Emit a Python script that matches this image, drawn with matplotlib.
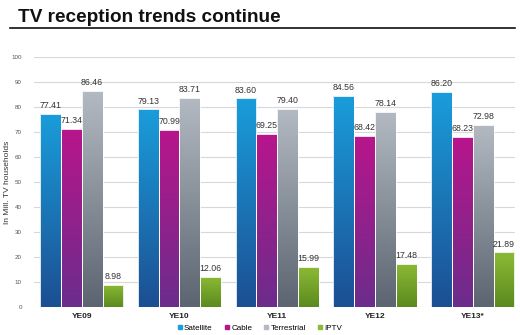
import numpy as np
import matplotlib.pyplot as plt
from matplotlib.colors import LinearSegmentedColormap
from matplotlib.patches import Patch
from matplotlib.lines import Line2D

years = ['YE09', 'YE10', 'YE11', 'YE12', 'YE13*']
series = ['Satellite', 'Cable', 'Terrestrial', 'IPTV']
satellite = [77.41, 79.13, 83.60, 84.56, 86.20]
cable = [71.34, 70.99, 69.25, 68.42, 68.23]
terrestrial = [86.46, 83.71, 79.40, 78.14, 72.98]
iptv = [8.98, 12.06, 15.99, 17.48, 21.89]

# (bottom, top) colours for each series gradient
grads = [('#1c4f92', '#1a9ddb'),
         ('#6b2d8c', '#b8158b'),
         ('#5b6470', '#b3bac2'),
         ('#5b8a1f', '#8cba35')]

plt.rcParams['font.family'] = ['Liberation Sans', 'DejaVu Sans']

fig = plt.figure(figsize=(5.2, 3.35), dpi=100)
fig.text(0.035, 0.935, 'TV reception trends continue', fontsize=13.7,
         fontweight='bold', color='#111111', va='baseline')
fig.add_artist(Line2D([0.02, 0.99], [0.915, 0.915], color='#111111', lw=1.2))

ax = fig.add_axes([0.066, 0.083, 0.924, 0.746])
ax.set_xlim(-0.485, 4.43)
ax.set_ylim(0, 100)

w = 0.213
grad = np.linspace(1, 0, 256).reshape(-1, 1)
data = [satellite, cable, terrestrial, iptv]
for s, vals in enumerate(data):
    cmap = LinearSegmentedColormap.from_list(series[s], grads[s])
    for i, v in enumerate(vals):
        x0 = i + (s - 1.5) * w - w / 2
        bar = ax.bar(x0, v, w, align='edge', color='none', ec='white', lw=0.6, zorder=3)[0]
        img = ax.imshow(grad, cmap=cmap, aspect='auto', extent=[x0, x0 + w, 0, v],
                        zorder=2, interpolation='nearest')
        img.set_clip_path(bar)
        ax.text(x0 + w / 2, v + 1.5, f'{v:.2f}', ha='center', va='bottom',
                fontsize=6.3, color='#333333', zorder=4)

ax.set_xlim(-0.485, 4.43)
ax.set_ylim(0, 100)
ax.set_yticks(range(0, 101, 10))
ax.yaxis.grid(True, color='#d8d8d8', lw=0.8, zorder=0)
ax.set_axisbelow(True)
ax.set_xticks(range(len(years)))
ax.set_xticklabels(years, fontsize=6, fontweight='bold', color='#222222')
ax.tick_params(axis='y', labelsize=4.5, colors='#555555', length=0, pad=9)
ax.tick_params(axis='x', length=0, pad=4)
for sp in ax.spines.values():
    sp.set_visible(False)
ax.set_ylabel('In Mill. TV households', fontsize=6, color='#333333', labelpad=0)

handles = [Patch(color=g[1], label=n) for g, n in zip(grads, series)]
fig.legend(handles=handles, loc='lower center', bbox_to_anchor=(0.5, -0.012), ncol=4,
           fontsize=5.8, frameon=False, handlelength=0.5, handleheight=0.5,
           handletextpad=0.3, columnspacing=1.5)

fig.savefig('out.png', dpi=100)
